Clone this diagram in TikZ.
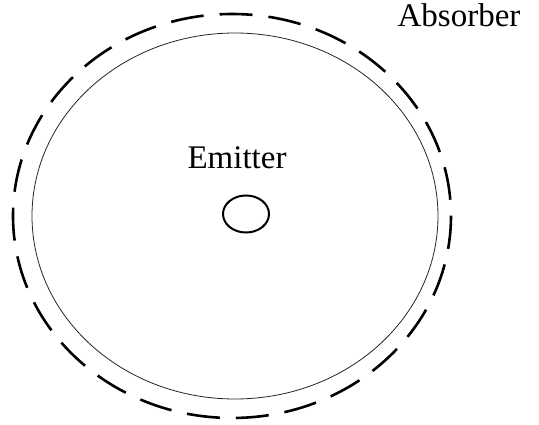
\documentclass[tikz,border=0pt]{standalone}
\usepackage{fontspec}
\setmainfont{Liberation Serif}
\usetikzlibrary{shapes.geometric}
\begin{document}
\begin{tikzpicture}[x=1pt,y=-1pt,
  lbl/.style={inner sep=0pt,font=\fontsize{33}{40}\selectfont},
  absorber/.style={draw=black,line width=2.6pt,dash pattern=on 33pt off 16pt},
  inner/.style={draw=black!85,line width=0.8pt},
  emitter/.style={draw=black,line width=2pt}]
\useasboundingbox (0,0) rectangle (539,425);
\fill[white] (0,0) rectangle (539,425);
\draw[inner] (235,216) ellipse [x radius=203, y radius=183];
\draw[absorber] (232,216) ellipse [x radius=219, y radius=202];
\node[ellipse,emitter,minimum width=46pt,minimum height=37pt,inner sep=0pt] (em) at (246,214) {};
\node[lbl,anchor=base] (emt) at (237,169) {Emitter};
\node[lbl,anchor=base] (abs) at (459,27) {Absorber};
\end{tikzpicture}
\end{document}
